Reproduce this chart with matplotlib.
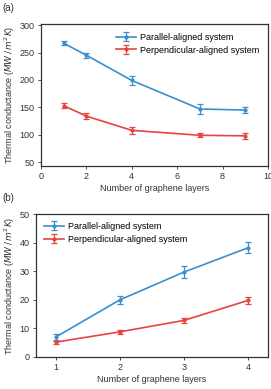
import numpy as np
import matplotlib
matplotlib.use("Agg")
import matplotlib.pyplot as plt

plt.rcParams['font.family'] = ['Liberation Sans', 'DejaVu Sans']
plt.rcParams['font.size'] = 6.5

# panel (a)
layers_a = [1, 2, 4, 7, 9]
par_a = [267, 245, 199, 147, 145]
par_a_err = [4, 5, 8, 9, 6]
perp_a = [153, 134, 108, 99, 98]
perp_a_err = [5, 5, 6, 4, 6]

# panel (b)
layers_b = [1, 2, 3, 4]
par_b = [7.0, 20.0, 29.7, 38.2]
par_b_err = [1.0, 1.3, 2.0, 2.0]
perp_b = [5.2, 8.8, 12.8, 19.8]
perp_b_err = [0.5, 0.7, 1.0, 1.3]

blue = '#3a8fd0'
red = '#e8433c'
ylabel = r'Thermal conductance ($MW\,/\,m^2K$)'

fig = plt.figure(figsize=(2.71, 3.89), dpi=100)
ax1 = fig.add_axes([41/271, 1 - 166/389, 227/271, 142/389])
ax2 = fig.add_axes([36/271, 1 - 357/389, 232/271, 143/389])

def draw(ax, x, y1, e1, y2, e2):
    ax.errorbar(x, y1, yerr=e1, color=blue, lw=1.2, marker='o', ms=2,
                capsize=2, elinewidth=0.9, capthick=0.9, label='Parallel-aligned system')
    ax.errorbar(x, y2, yerr=e2, color=red, lw=1.2, marker='o', ms=2,
                capsize=2, elinewidth=0.9, capthick=0.9, label='Perpendicular-aligned system')
    for s in ax.spines.values():
        s.set_linewidth(0.9)
        s.set_color('#333333')
    ax.tick_params(length=2.5, width=0.6, color='#333333', labelcolor='#333333', pad=2)
    ax.set_ylabel(ylabel, color='#333333', labelpad=2)
    ax.set_xlabel('Number of graphene layers', color='#333333', labelpad=2)

draw(ax1, layers_a, par_a, par_a_err, perp_a, perp_a_err)
ax1.set_xlim(0, 10)
ax1.set_ylim(43, 302)
ax1.set_xticks([0, 2, 4, 6, 8, 10])
ax1.set_yticks([50, 100, 150, 200, 250, 300])
ax1.legend(loc='upper right', frameon=False, handlelength=2.2, borderaxespad=0.6,
           labelspacing=0.4, handletextpad=0.4)

draw(ax2, layers_b, par_b, par_b_err, perp_b, perp_b_err)
ax2.set_xlim(0.69, 4.31)
ax2.set_ylim(0, 50)
ax2.set_xticks([1, 2, 3, 4])
ax2.set_yticks([0, 10, 20, 30, 40, 50])
ax2.legend(loc='upper left', frameon=False, handlelength=2.2, borderaxespad=0.5,
           labelspacing=0.4, handletextpad=0.4)

fig.text(2/271, 1 - 8/389, '(a)', fontsize=7, color='#333333', va='center')
fig.text(2/271, 1 - 198/389, '(b)', fontsize=7, color='#333333', va='center')

fig.savefig('out.png', dpi=100)
